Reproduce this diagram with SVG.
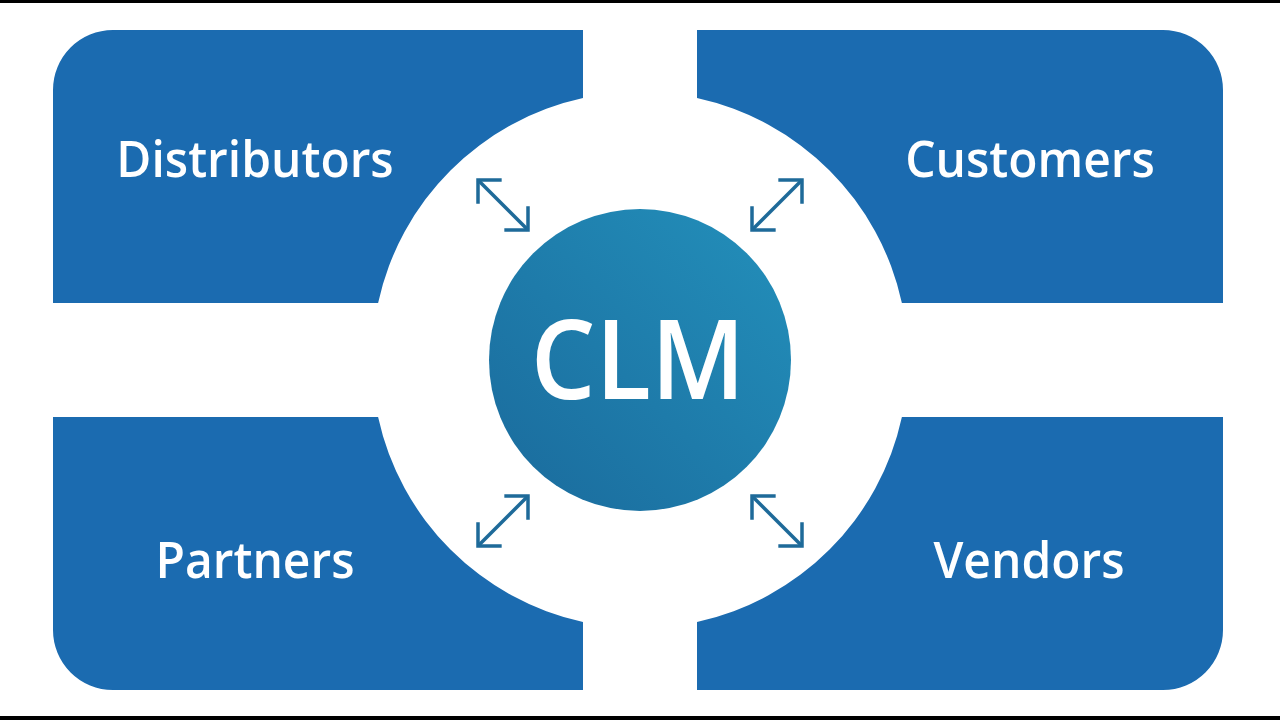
<svg xmlns="http://www.w3.org/2000/svg" width="1280" height="720" viewBox="0 0 1280 720">
  <defs>
    <style>
      .quad { fill: #1b6bb0; }
      .label { fill: #ffffff; font-family: "Open Sans", "Liberation Sans", sans-serif; font-weight: 600; font-size: 51px; text-anchor: middle; }
      .clm { fill: #ffffff; font-family: "Open Sans", "Liberation Sans", sans-serif; font-weight: 600; font-size: 110px; text-anchor: middle; }
      .arrow { stroke: #1e6a99; stroke-width: 3.5; fill: none; marker-start: url(#head); marker-end: url(#head); }
    </style>
    <linearGradient id="hub" x1="1" y1="0" x2="0" y2="1">
      <stop offset="0" stop-color="#2390bb"/>
      <stop offset="1" stop-color="#1a6a9c"/>
    </linearGradient>
    <marker id="head" markerUnits="userSpaceOnUse" viewBox="-20 -20 24 40" markerWidth="24" markerHeight="40" refX="0" refY="0" orient="auto-start-reverse" overflow="visible">
      <path d="M -15.5 -15.5 L 0 0 L -15.5 15.5" fill="none" stroke="#1e6a99" stroke-width="3.5" stroke-linecap="square"/>
    </marker>
  </defs>
  <rect x="0" y="0" width="1280" height="720" fill="#ffffff"/>
  <rect x="0" y="0" width="1280" height="3" fill="#000000"/>
  <rect x="0" y="716" width="1280" height="4" fill="#000000"/>

  <g id="distributors">
    <path class="quad" d="M 53 90 A 60 60 0 0 1 113 30 L 583 30 L 583 98.1 A 268 268 0 0 0 378.1 303 L 53 303 Z"/>
    <text class="label" transform="translate(255 177) scale(0.94 1)">Distributors</text>
  </g>
  <g id="customers">
    <path class="quad" d="M 697 30 L 1163 30 A 60 60 0 0 1 1223 90 L 1223 303 L 901.9 303 A 268 268 0 0 0 697 98.1 Z"/>
    <text class="label" transform="translate(1030 177) scale(0.94 1)">Customers</text>
  </g>
  <g id="partners">
    <path class="quad" d="M 53 417 L 378.1 417 A 268 268 0 0 0 583 621.9 L 583 690 L 113 690 A 60 60 0 0 1 53 630 Z"/>
    <text class="label" transform="translate(255 578) scale(0.94 1)">Partners</text>
  </g>
  <g id="vendors">
    <path class="quad" d="M 697 621.9 A 268 268 0 0 0 901.9 417 L 1223 417 L 1223 630 A 60 60 0 0 1 1163 690 L 697 690 Z"/>
    <text class="label" transform="translate(1029 578) scale(0.94 1)">Vendors</text>
  </g>
  <g id="clm">
    <circle cx="640" cy="360" r="151" fill="url(#hub)"/>
    <text class="clm" transform="translate(638 399) scale(0.93 1)">CLM</text>
  </g>

  <g id="connectors">
    <line class="arrow" x1="478" y1="180" x2="528" y2="230"/>
    <line class="arrow" x1="802" y1="180" x2="752" y2="230"/>
    <line class="arrow" x1="478" y1="546" x2="528" y2="496"/>
    <line class="arrow" x1="802" y1="546" x2="752" y2="496"/>
  </g>
</svg>
